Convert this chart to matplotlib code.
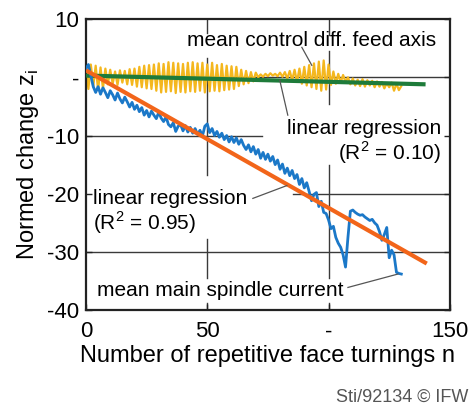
import matplotlib
matplotlib.use('Agg')
import matplotlib.pyplot as plt
import numpy as np

plt.rcParams['font.family'] = ['Liberation Sans', 'DejaVu Sans']
plt.rcParams['xtick.direction'] = 'in'
plt.rcParams['ytick.direction'] = 'in'

# mean control difference of the feed axis (one value per turning)
feed_z = [1.8, -2.0, 2.2, -1.6, 2.0, -2.2, 1.7, -1.9, 1.5,
          -1.2, 1.3, -1.1, 1.0, -1.3, 1.2, -0.9, 1.1, -1.2, 1.4, -1.3, 1.5,
          -1.6, 1.8, -1.7, 2.0, -1.9, 2.1, -2.0, 2.2,
          -2.3, 2.4, -2.6, 2.3, -2.5, 2.6, -2.4, 2.5, -2.7, 2.4, -2.5, 2.3,
          -2.6, 2.5, -2.4, 2.6, -2.5, 2.4, -2.3, 2.5, -2.6, 2.2, -2.4, 2.5,
          -2.3, 2.1, -2.4, 2.3, -2.2, 2.0, -2.1, 1.9, -2.0, 1.8,
          -1.5, 1.3, -1.2, 1.1, -1.0, 0.9, -0.7, 0.8,
          0.0, 0.5, 0.1, 0.6, 0.2, 0.7, 0.3, 0.6, 0.2, 0.8, 0.1, 0.9, -0.2, 1.1, -0.5, 1.3,
          -0.8, 1.5, -1.1, 1.8, -1.4, 2.1, -1.7, 2.4, -2.0, 2.7, -2.3, 2.9, -2.1, 2.2,
          -1.3, 1.0, -1.1, 0.6, -0.9, 0.4, -0.8,
          0.0, -1.2, -0.2, -1.4, -0.4, -1.5, -0.3, -1.6, -0.5, -1.4, -0.6, -1.7,
          -0.7, -1.6, -0.8, -1.9, -1.0, -1.7, -0.9, -2.3, -1.1, -2.2, -1.5]
feed_n = np.arange(len(feed_z))

# mean main spindle current
spindle_z = [1.5, 2.2, 0.3, -1.6, -2.6, -1.6, -2.9, -1.8, -2.6, -3.5,
             -2.3, -3.0, -3.9, -2.7, -3.7, -4.4, -3.4, -4.2, -5.1, -4.3,
             -5.5, -4.8, -5.9, -5.2, -6.5, -5.7, -6.8, -5.8, -6.5, -7.1,
             -6.0, -7.0, -7.6, -6.8, -8.1, -8.5, -7.8, -9.3, -8.4, -8.1,
             -9.2, -8.3, -9.4, -8.6, -9.6, -8.8, -9.8, -9.1, -10.1, -8.4,
             -8.0, -9.5, -8.8, -10.0, -9.3, -10.3, -9.6, -10.7, -10.0, -11.1,
             -10.2, -11.2, -10.4, -11.5, -10.7, -11.7, -12.4, -11.6, -12.8, -11.9,
             -13.2, -12.4, -13.9, -12.9, -14.1, -13.2, -14.4, -13.6, -15.0, -14.2,
             -15.8, -14.9, -16.5, -15.6, -16.9, -16.0, -17.4, -16.7, -18.4, -17.4,
             -19.0, -18.1, -19.6, -21.2, -20.1, -19.8, -22.2, -21.3, -23.2, -23.4,
             -24.5, -26.0, -25.6, -27.5, -28.5, -29.2, -30.5, -32.6, -27.5, -23.0,
             -22.8, -23.2, -23.5, -23.7, -23.6, -24.0, -24.3, -24.6, -24.4, -25.0,
             -25.4, -26.5, -28.0, -27.0, -25.8, -31.0, -29.7, -30.5, -33.5, -33.7,
             -33.8]
spindle_n = np.arange(len(spindle_z))

# regression lines (end points)
reg_feed_n = [0, 140]
reg_feed_z = [0.3, -1.2]
reg_spindle_n = [0, 140.5]
reg_spindle_z = [1.2, -32.0]

xticks = [0, 50, 100, 150]
xticklabels = ['0', '50', '-', '150']
yticks = [10, 0, -10, -20, -30, -40]
yticklabels = ['10', '-', '-10', '-20', '-30', '-40']

fig = plt.figure(figsize=(4.75, 4.07), dpi=100)
ax = fig.add_axes([0.181, 0.238, 0.766, 0.715])

# broken grid lines (gaps where the labels sit)
gc = '#3a3a3a'
for y, x0, x1 in [(0, 0, 150), (-10, 0, 72.5), (-20, 85.3, 150), (-30, 0, 150)]:
    ax.plot([x0, x1], [y, y], color=gc, lw=1.0, zorder=1)
for x, segs in [(50, [(10, 7.6), (3.3, -16.8), (-27.7, -34.4), (-38.7, -40)]),
                (100, [(10, 7.2), (4.6, -4.5), (-15.1, -34.4), (-38.7, -40)])]:
    for y0, y1 in segs:
        ax.plot([x, x], [y0, y1], color=gc, lw=1.0, zorder=1)

ax.plot(feed_n, feed_z, color='#f4b71e', lw=1.6, zorder=2)
ax.plot(reg_feed_n, reg_feed_z, color='#1e7b3a', lw=3.0, zorder=3, solid_capstyle='butt')
ax.plot(spindle_n, spindle_z, color='#1b78c8', lw=2.0, zorder=4)
ax.plot(reg_spindle_n, reg_spindle_z, color='#f2651a', lw=3.0, zorder=5, solid_capstyle='butt')

fs = 15
ax.text(41.6, 6.4, 'mean control diff. feed axis', fontsize=fs, va='center', ha='left')
ax.plot([89, 93.1], [5.15, 2.06], color='#555555', lw=0.9, zorder=6)

ax.text(146.3, -8.8, 'linear regression', fontsize=fs, va='center', ha='right')
ax.text(146.3, -12.9, '(R$^\\mathregular{2}$ = 0.10)', fontsize=fs, va='center', ha='right')
ax.plot([79.9, 83.2], [-0.5, -6.5], color='#555555', lw=0.9, zorder=6)

ax.text(2.9, -20.8, 'linear regression', fontsize=fs, va='center', ha='left')
ax.text(2.9, -24.9, '(R$^\\mathregular{2}$ = 0.95)', fontsize=fs, va='center', ha='left')
ax.plot([68.8, 82.8], [-20.8, -18.6], color='#555555', lw=0.9, zorder=6)

ax.text(4.5, -36.6, 'mean main spindle current', fontsize=fs, va='center', ha='left')
ax.plot([108, 128.6], [-36.1, -33.8], color='#555555', lw=0.9, zorder=6)

ax.set_xlim(0, 150)
ax.set_ylim(-40, 10)
ax.set_xticks(xticks)
ax.set_xticklabels(xticklabels)
ax.set_yticks(yticks)
ax.set_yticklabels(yticklabels)
ax.tick_params(axis='both', labelsize=16, length=4, width=1, color='#222222')
ax.tick_params(axis='x', pad=8)
ax.tick_params(axis='y', pad=5, right=True)
for s in ax.spines.values():
    s.set_linewidth(1.6)
    s.set_color('#222222')

ax.set_xlabel('Number of repetitive face turnings n', fontsize=17, labelpad=2)
ax.set_ylabel('Normed change z$_\\mathregular{i}$', fontsize=17, labelpad=4)

fig.text(0.985, 0.025, 'Sti/92134 \u00a9 IFW', fontsize=13, color='#555555', ha='right', va='center')

fig.savefig('out.png', dpi=100)
